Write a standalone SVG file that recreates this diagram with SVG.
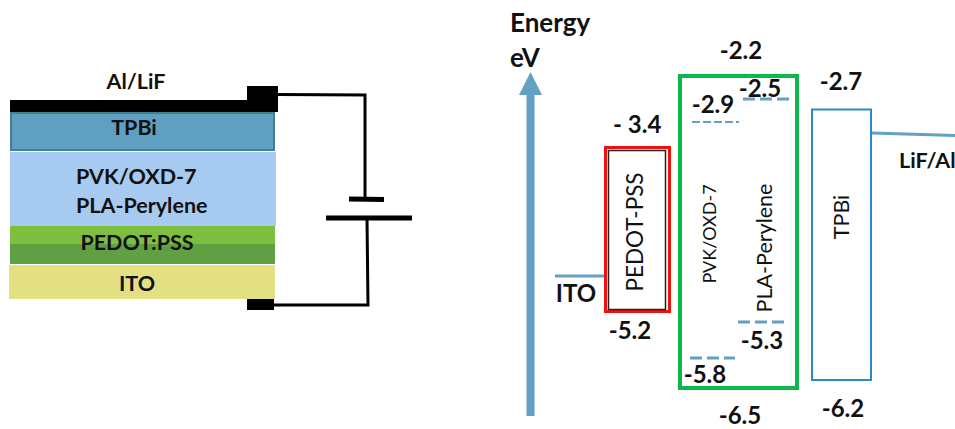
<svg xmlns="http://www.w3.org/2000/svg" width="955" height="429" viewBox="0 0 955 429">
<style>
text{font-family:Lato,"Liberation Sans",sans-serif;fill:#111}
.b{font-weight:700;font-size:24px}
.e{font-weight:700;font-size:26px}
.s{font-weight:700;font-size:21.500px}
.m{text-anchor:middle}
.r{font-weight:400;font-size:21.500px;text-anchor:middle}
.w{fill:none;stroke:#000;stroke-width:3}
.lv{stroke:#62a1c4;fill:none}
</style>
<rect width="955" height="429" fill="#fff"/>
<g id="cathode"><rect x="10" y="100" width="266" height="12" fill="#000"/><rect x="247" y="86" width="31" height="26" fill="#000"/><text class="s m" x="136" y="89">Al/LiF</text></g>
<g id="layer-tpbi"><rect x="11" y="113" width="263" height="37" fill="#5fa0c2" stroke="#41808f" stroke-width="2"/><text class="s m" x="134" y="135">TPBi</text></g>
<g id="layer-emitter"><rect x="10" y="152" width="266" height="74" fill="#a7caf0"/><text class="s" x="76" y="184">PVK/OXD-7</text><text class="s" x="76" y="213">PLA-Perylene</text></g>
<g id="layer-pedot"><rect x="10" y="226" width="265" height="20" fill="#7fbf3f"/><rect x="10" y="244" width="265" height="20" fill="#609f42"/><text class="s m" x="137" y="250">PEDOT:PSS</text></g>
<g id="layer-ito"><rect x="9" y="265" width="266" height="34" fill="#e2e082"/><text class="s m" x="137" y="291">ITO</text></g>
<g id="anode"><rect x="247" y="299" width="27" height="11" fill="#000"/></g>
<g id="battery"><path d="M349 199L384 199.500M326 218H412" class="w" style="stroke-width:5"/></g>
<g id="connectors">
<path class="w" d="M278 94.500L365 95V197M367 218L368 305H274"/>
<path class="lv" stroke-width="3" d="M555 276H606M872 133L955 135.500"/>
<path fill="#62a1c4" d="M526.500 95H519L530.500 72L542 95H534.500V416H526.500Z"/>
</g>
<g id="axis-label"><text class="e" x="510" y="32">Energy</text><text class="e" x="510" y="67">eV</text></g>
<g id="pedot-pss">
<rect x="605.500" y="147.500" width="64" height="164" fill="none" stroke="#f01010" stroke-width="3"/>
<rect x="608.500" y="150.500" width="57" height="159" fill="#fff" stroke="#222" stroke-width="1.500"/>
<text class="r" transform="translate(643 232) rotate(-90)" style="font-size:22.500px">PEDOT-PSS</text>
<text class="b" x="613" y="133">- 3.4</text><text class="b m" x="630" y="339">-5.2</text><text class="b m" x="576" y="302">ITO</text>
</g>
<g id="emitter">
<rect x="680" y="76" width="117" height="312" fill="none" stroke="#0cb84c" stroke-width="4"/>
<text font-size="18" class="m" transform="translate(716 234) rotate(-90)">PVK/OXD-7</text>
<text class="r" transform="translate(772 248) rotate(-90)">PLA-Perylene</text>
<path class="lv" stroke-width="2" stroke-dasharray="8 3" d="M692 122H739"/>
<path class="lv" stroke-width="3" stroke-dasharray="12 5" d="M743 99H789M738 322H784M690 358H735"/>
<text class="b m" x="741" y="59">-2.2</text><text class="b m" x="713" y="113">-2.9</text><text class="b m" x="760" y="97">-2.5</text>
<text class="b m" x="762" y="349">-5.3</text><text class="b m" x="705" y="383">-5.8</text><text class="b m" x="740" y="424">-6.5</text>
</g>
<g id="tpbi">
<rect x="812" y="109.500" width="59" height="270.500" fill="none" stroke="#2a8bc4" stroke-width="2"/>
<text class="r" transform="translate(849 217) rotate(-90)">TPBi</text>
<text class="b m" x="841" y="90">-2.7</text><text class="b m" x="843" y="417">-6.2</text><text class="s" x="899" y="168">LiF/Al</text>
</g>
</svg>
